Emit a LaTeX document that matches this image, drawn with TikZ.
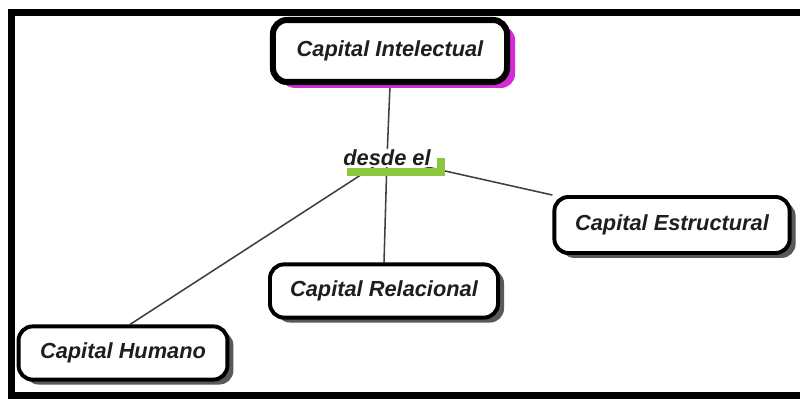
\documentclass[tikz,border=0pt]{standalone}
\usepackage{fontspec}
\setmainfont{Liberation Sans}
\usepackage{tikz}
\usetikzlibrary{positioning,calc,shapes,shadows,backgrounds}
\definecolor{textgray}{HTML}{1E1E1E}
\definecolor{linkgreen}{HTML}{8CC63F}
\definecolor{shadowpink}{HTML}{D42AD8}
\tikzset{cfont/.style={font=\fontsize{15.5}{18}\selectfont\bfseries\itshape, text=textgray}}
\tikzset{cbox/.style={cfont, draw=black, fill=white, rounded corners=10pt, line width=2.8pt, align=center,
	drop shadow={shadow xshift=4.25pt, shadow yshift=-3.5pt, fill=black!65, opacity=1}}}
\tikzset{cboxtop/.style={cbox, line width=4.3pt,
	drop shadow={shadow xshift=5.7pt, shadow yshift=-4.25pt, fill=shadowpink, opacity=1}}}
\tikzset{link/.style={draw=black!75, line width=1.1pt}}
\tikzset{linker/.style={cfont, fill=white, inner sep=1pt}}

\begin{document}
\begin{tikzpicture}[x=0.025cm, y=-0.025cm]
	\useasboundingbox (0,0) rectangle (800,399);
	% concepts
	\node[cboxtop, minimum width=5.85cm, minimum height=1.55cm] (intel) at (390,51) {Capital Intelectual};
	\node[cbox, minimum width=5.88cm, minimum height=1.4cm] (estruct) at (672,225) {Capital Estructural};
	\node[cbox, minimum width=5.7cm, minimum height=1.33cm] (relac) at (384,291) {Capital Relacional};
	\node[cbox, minimum width=5.22cm, minimum height=1.33cm] (humano) at (123,353) {Capital Humano};
	% linking phrase
	\node[linker] (desde) at (387,158) {desde el};
	\draw[linkgreen, line width=5pt] ($(desde.center)+(-40,14)$) -- ($(desde.center)+(54,14)$) -- ($(desde.center)+(54,0)$);
	% connectors, under everything
	\begin{scope}[on background layer]
		\fill[white] (0,0) rectangle (800,399);
		\draw[link] (desde.center) -- (intel.south);
		\draw[link] (desde.center) -- (relac.north);
		\draw[link] (desde.center) -- ([xshift=5]humano.north);
		\draw[link] (desde.center) -- (estruct.north west);
	\end{scope}
	% frame
	\draw[line width=5pt] (800,12.5) -| (11.5,396) -- (800,396);
\end{tikzpicture}
\end{document}
